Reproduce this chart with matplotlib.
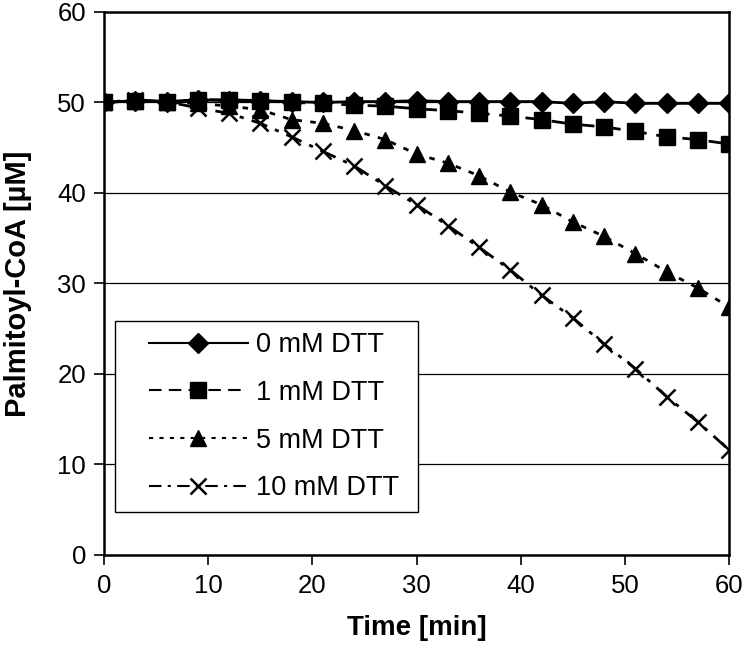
import matplotlib
matplotlib.use('Agg')
import matplotlib.pyplot as plt
from matplotlib.legend_handler import HandlerLine2D

plt.rcParams['font.family'] = 'Liberation Sans'

# Time points (min) and concentrations (uM)
time_min = [0, 3, 6, 9, 12, 15, 18, 21, 24, 27, 30, 33, 36, 39, 42, 45, 48, 51, 54, 57, 60]
dtt_0 = [50.0, 50.2, 50.1, 50.3, 50.2, 50.2, 50.1, 50.0, 50.1, 50.1, 50.2, 50.1, 50.1,
         50.1, 50.1, 49.9, 50.1, 49.9, 49.9, 49.9, 49.9]
dtt_1 = [50.0, 50.2, 50.1, 50.3, 50.3, 50.2, 50.0, 49.9, 49.7, 49.6, 49.3, 49.1, 48.8,
         48.5, 48.1, 47.6, 47.3, 46.8, 46.2, 45.9, 45.4]
dtt_5 = [50.0, 50.2, 50.0, 49.9, 49.6, 49.2, 48.1, 47.7, 46.9, 45.9, 44.3, 43.3, 41.9,
         40.1, 38.7, 36.8, 35.2, 33.3, 31.3, 29.5, 27.4]
dtt_10 = [50.0, 50.3, 50.1, 49.4, 48.8, 47.7, 46.2, 44.6, 43.0, 40.8, 38.7, 36.4, 34.0,
          31.5, 28.7, 26.2, 23.3, 20.6, 17.5, 14.7, 11.6]
labels = ['0 mM DTT', '1 mM DTT', '5 mM DTT', '10 mM DTT']
x_ticks = [0, 10, 20, 30, 40, 50, 60]
y_ticks = [0, 10, 20, 30, 40, 50, 60]

fig = plt.figure(figsize=(7.44, 6.47), dpi=100)
ax = fig.add_axes([0.1398, 0.1422, 0.8402, 0.8393])

# horizontal gridlines
for yv in y_ticks[1:-1]:
    ax.axhline(yv, color='black', linewidth=0.9, zorder=1)

lw = 2.0
ax.plot(time_min, dtt_0, color='black', linewidth=lw, linestyle='-',
        marker='D', markersize=10, label=labels[0], zorder=3)
ax.plot(time_min, dtt_1, color='black', linewidth=lw, linestyle=(0, (6, 3.5)),
        marker='s', markersize=11, label=labels[1], zorder=3)
ax.plot(time_min, dtt_5, color='black', linewidth=lw, linestyle=(0, (2, 3)),
        marker='^', markersize=12, label=labels[2], zorder=3)
ax.plot(time_min, dtt_10, color='black', linewidth=lw, linestyle=(0, (6, 3, 1.5, 3)),
        marker='x', markersize=12, markeredgewidth=1.8, label=labels[3], zorder=3)

ax.set_xlim(0, 60)
ax.set_ylim(0, 60)
ax.set_xticks(x_ticks)
ax.set_yticks(y_ticks)
ax.tick_params(axis='both', direction='out', length=7, width=1.2, labelsize=18.5)
ax.tick_params(axis='x', pad=7)
ax.tick_params(axis='y', pad=6)
for side in ['left', 'bottom', 'right', 'top']:
    ax.spines[side].set_linewidth(1.8)
    ax.spines[side].set_color('black')

ax.set_xlabel('Time [min]', fontsize=20, fontweight='bold', labelpad=12)
ax.set_ylabel('Palmitoyl-CoA [µM]', fontsize=21, fontweight='bold', labelpad=18)

leg = ax.legend(loc='lower left', bbox_to_anchor=(0.0176, 0.079, 0.4844, 0.357),
                mode='expand', fontsize=19.5, numpoints=1, handlelength=4.5,
                handletextpad=0.3, labelspacing=0.8, borderaxespad=0, borderpad=0.4,
                fancybox=False, framealpha=1, edgecolor='black',
                handler_map={plt.Line2D: HandlerLine2D(xpad=0.85)})
leg.get_frame().set_linewidth(1.0)
for line in leg.get_lines():
    line.set_linewidth(1.5)

fig.savefig('out.png', dpi=100)
